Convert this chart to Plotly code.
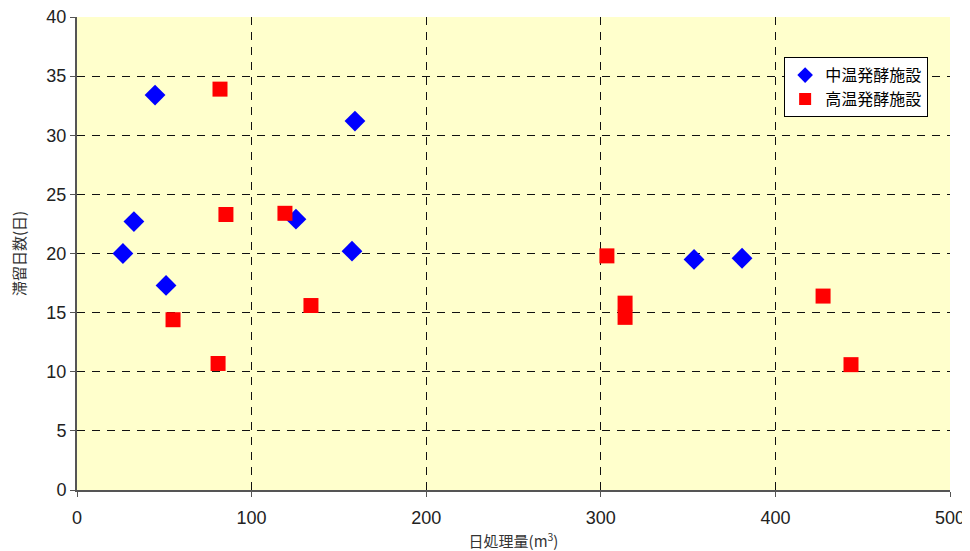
import plotly.graph_objects as go

mid_x = [26.3, 32.6, 44.7, 51.0, 125.4, 157.5, 159.2, 353.4, 380.9]
mid_y = [20.0, 22.7, 33.4, 17.3, 22.9, 20.2, 31.2, 19.5, 19.6]

high_x = [55.0, 80.8, 81.9, 85.3, 119.1, 134.0, 303.5, 313.9, 313.9, 427.3, 443.3]
high_y = [14.4, 10.7, 33.9, 23.3, 23.4, 15.6, 19.8, 15.8, 14.6, 16.4, 10.6]

x_ticks = [0, 100, 200, 300, 400, 500]
y_ticks = [0, 5, 10, 15, 20, 25, 30, 35, 40]

font_jp = "Noto Sans CJK JP"

fig = go.Figure()
fig.add_trace(go.Scatter(x=mid_x, y=mid_y, mode="markers", name="中温発酵施設",
                         marker=dict(symbol="diamond", size=16, color="#0000FF")))
fig.add_trace(go.Scatter(x=high_x, y=high_y, mode="markers", name="高温発酵施設",
                         marker=dict(symbol="square", size=15, color="#FF0000")))

axis_common = dict(showgrid=True, gridcolor="#111111", griddash="8px,7px", gridwidth=1,
                   showline=True, linecolor="#555555", linewidth=2, mirror=False,
                   ticks="outside", ticklen=5, tickcolor="#555555",
                   zeroline=False, automargin=False, ticklabeloverflow="allow",
                   tickfont=dict(family="Liberation Sans", size=18, color="#222222"))

fig.update_xaxes(range=[0, 500], tickvals=x_ticks, ticklabelstandoff=5, **axis_common,
                 title=dict(text="日処理量(m<sup>3</sup>)", font=dict(family=font_jp, size=15, color="#333333"), standoff=10))
fig.update_yaxes(range=[0, 40], tickvals=y_ticks, **axis_common,
                 title=dict(text="滞留日数(日)", font=dict(family=font_jp, size=15, color="#333333"), standoff=17))

fig.update_layout(
    width=962, height=543,
    margin=dict(l=69, r=20, t=9, b=61),
    paper_bgcolor="#FFFFFF", plot_bgcolor="#FFFFCC",
    showlegend=True,
    legend=dict(x=0.81, y=0.915, xanchor="left", yanchor="top",
                bgcolor="#FFFFFF", bordercolor="#000000", borderwidth=1,
                font=dict(family=font_jp, size=16, color="#000000"),
                itemsizing="constant", tracegroupgap=0),
)

fig.write_html("out.html")
